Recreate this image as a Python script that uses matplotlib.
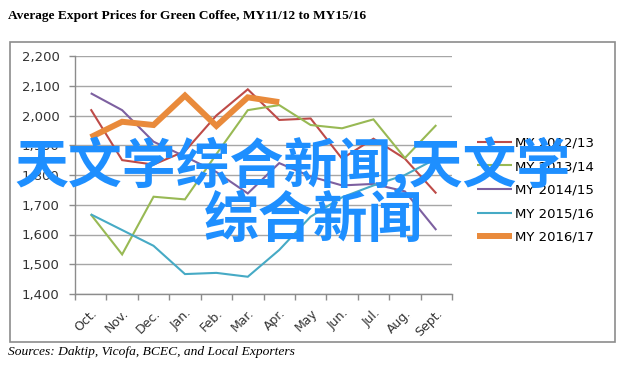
import matplotlib
matplotlib.use("Agg")
import matplotlib.pyplot as plt
from matplotlib.patches import Rectangle
import numpy as np

months = ["Oct.", "Nov.", "Dec.", "Jan.", "Feb.", "Mar.", "Apr.", "May", "Jun.", "Jul.", "Aug.", "Sept."]
my_2012_13 = [2021, 1850, 1835, 1880, 2000, 2088, 1985, 1990, 1855, 1922, 1855, 1738]
my_2013_14 = [1668, 1533, 1727, 1718, 1870, 2018, 2035, 1968, 1957, 1987, 1857, 1968]
my_2014_15 = [2075, 2018, 1912, 1862, 1810, 1738, 1840, 1795, 1765, 1770, 1745, 1615]
my_2015_16 = [1668, 1615, 1562, 1467, 1471, 1458, 1548, 1660, 1725, 1765, 1800, 1855]
my_2016_17 = [1927, 1979, 1968, 2067, 1965, 2061, 2045]
series_labels = ["MY 2012/13", "MY 2013/14", "MY 2014/15", "MY 2015/16", "MY 2016/17"]
yticks = [1400, 1500, 1600, 1700, 1800, 1900, 2000, 2100, 2200]

colors = ["#BE4B48", "#98B954", "#7D60A0", "#46AAC5", "#E98A3B"]
widths = [1.5, 1.5, 1.5, 1.5, 4.3]

W, H = 628, 372
fig = plt.figure(figsize=(W / 100, H / 100), dpi=100)

# outer chart frame
fig.patches.append(Rectangle((10 / W, 1 - 342 / H), 605 / W, 300 / H, transform=fig.transFigure,
                             fill=False, edgecolor="#8C8C8C", linewidth=1.2))

ax = fig.add_axes([75 / W, 1 - 294 / H, (452 - 75) / W, (294 - 56) / H])
x = np.arange(len(months))
all_series = [my_2012_13, my_2013_14, my_2014_15, my_2015_16, my_2016_17]
lines = []
for vals, c, lw, lab in zip(all_series, colors, widths, series_labels):
    ln, = ax.plot(x[:len(vals)], vals, color=c, lw=lw, label=lab, solid_joinstyle="miter",
                  solid_capstyle="butt", zorder=3)
    lines.append(ln)

ax.set_xlim(-0.5, len(months) - 0.5)
ax.set_ylim(1400, 2200)
ax.set_yticks(yticks)
ax.set_yticklabels([f"{v:,}" for v in yticks], fontsize=9.5, family="DejaVu Sans", color="#333333")
ax.set_xticks(np.arange(len(months) + 1) - 0.5, minor=False)
ax.set_xticklabels([])
ax.set_xticks(x, minor=True)
ax.set_xticklabels(months, minor=True, rotation=45, ha="right", va="top", rotation_mode="anchor",
                   fontsize=9, family="DejaVu Sans", color="#333333")
ax.tick_params(axis="x", which="minor", length=0, pad=9)
ax.tick_params(axis="x", which="major", length=4, direction="out", color="#8C8C8C", width=1)
ax.tick_params(axis="y", length=4, direction="out", color="#8C8C8C", width=1, pad=7)
ax.grid(axis="y", color="#A6A6A6", linewidth=1.0, zorder=0)
for s in ["top", "right"]:
    ax.spines[s].set_visible(False)
for s in ["left", "bottom"]:
    ax.spines[s].set_color("#8C8C8C")
    ax.spines[s].set_linewidth(1.0)

fig.legend(handles=lines, labels=series_labels, loc="upper left",
           bbox_to_anchor=(477 / W, 1 - 136.5 / H), frameon=False,
           prop={"family": "DejaVu Sans", "size": 9.5}, handlelength=2.65,
           handletextpad=0.23, labelspacing=0.8, borderpad=0, borderaxespad=0)

fig.text(8 / W, 1 - 16 / H, "Average Export Prices for Green Coffee, MY11/12 to MY15/16",
         family="Liberation Serif", weight="bold", fontsize=9.6, va="center", ha="left")
fig.text(8 / W, 1 - 352 / H, "Sources: Daktip, Vicofa, BCEC, and Local Exporters",
         family="Liberation Serif", style="italic", fontsize=9.7, va="center", ha="left")

# overlay watermark text
wm = dict(family=["Noto Sans CJK SC", "DejaVu Sans"], weight="bold", color="#1E8FFF",
          va="center", ha="left", zorder=10)
fig.text(14 / W, 1 - 166 / H, "天文学综合新闻,天文学", fontsize=38.8, **wm)
fig.text(204 / W, 1 - 220 / H, "综合新闻", fontsize=39.5, **wm)

fig.savefig("out.png", dpi=100)
